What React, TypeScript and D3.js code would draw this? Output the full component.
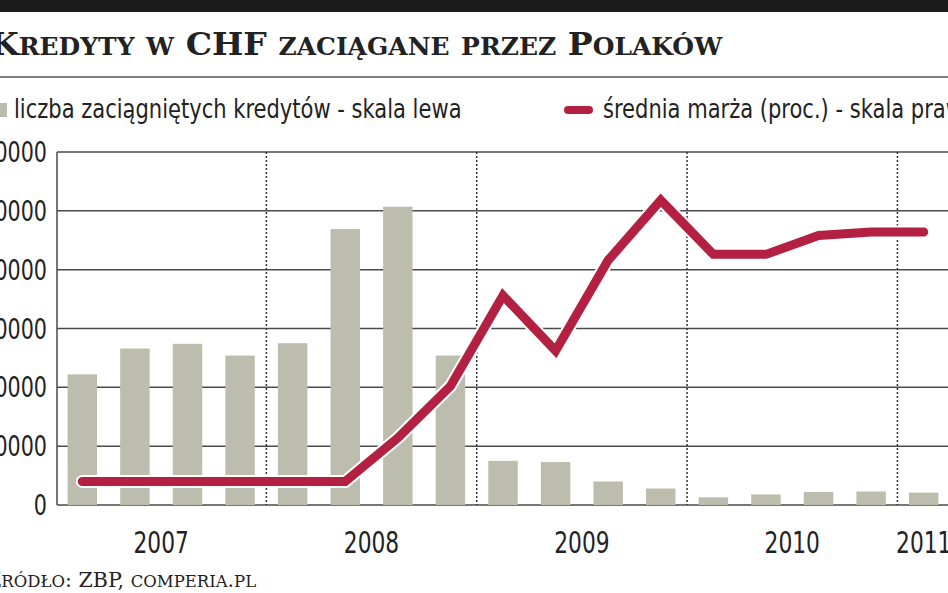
import React, { useEffect, useRef } from 'react';
import * as d3 from 'd3';

// quarterly data, Q1 2007 .. Q1 2011
const quarters = [
  'I 07', 'II 07', 'III 07', 'IV 07',
  'I 08', 'II 08', 'III 08', 'IV 08',
  'I 09', 'II 09', 'III 09', 'IV 09',
  'I 10', 'II 10', 'III 10', 'IV 10',
  'I 11',
];
const loans = [22200, 26600, 27400, 25400, 27500, 46900, 50700, 25400, 7500, 7300, 4000, 2800, 1300, 1800, 2200, 2300, 2100];
const margin = [0.7, 0.7, 0.7, 0.7, 0.7, 0.7, 1.07, 1.51, 2.28, 1.81, 2.58, 3.09, 2.63, 2.63, 2.79, 2.82, 2.82];
const years = ['2007', '2008', '2009', '2010', '2011'];
const yearOf = quarters.map(q => '20' + q.split(' ')[1]);
const leftTicks = [0, 10000, 20000, 30000, 40000, 50000, 60000];

const title = 'Kredyty w CHF zaciągane przez Polaków';
const legendBars = 'liczba zaciągniętych kredytów - skala lewa';
const legendLine = 'średnia marża (proc.) - skala prawa';
const source = 'Źródło: ZBP, comperia.pl';

const W = 948;
const H = 593;
const RED = '#b32041';
const BAR = '#bdbdae';
const GRID = '#4a4a4a';
const SANS = '"DejaVu Sans Condensed", "DejaVu Sans", sans-serif';
const SERIF = '"DejaVu Serif", "Liberation Serif", serif';

// split text into runs of capitals / lowercase for hand-made small caps
const smallCapsRuns = (s: string) => {
  const runs: { t: string, small: boolean }[] = [];
  for (const ch of s) {
    const small = ch !== ch.toUpperCase();
    const last = runs[runs.length - 1];
    if (last && last.small === small) last.t += ch;
    else runs.push({ t: ch, small });
  }
  return runs.map(r => ({ t: r.t.toUpperCase(), small: r.small }));
};

const App: React.FC = () => {
  const svgRef = useRef() as React.MutableRefObject<SVGSVGElement>;

  useEffect(() => {
    const svg = d3.select(svgRef.current);
    svg.html('');

    const plot = { left: 57, right: 950, top: 152, bottom: 505 };

    const x = d3.scaleBand<string>()
      .domain(quarters)
      .range([plot.left - 1, plot.right])
      .paddingInner(0.44)
      .paddingOuter(0.22);

    const y = d3.scaleLinear().domain([0, 60000]).range([plot.bottom, plot.top]);
    const yRight = d3.scaleLinear().domain([0.5, 3.5]).range([plot.bottom, plot.top]);

    const narrow = 0.82; // squeeze DejaVu toward the condensed newspaper face

    // top band
    svg.append('rect').attr('x', 0).attr('y', 0).attr('width', W).attr('height', 12).attr('fill', '#1b1b1b');

    // title in small caps
    const titleText = svg.append('text')
      .attr('transform', 'translate(-10,55) scale(1.02,1)')
      .attr('font-family', SERIF)
      .attr('font-weight', 'bold')
      .attr('fill', '#222');
    titleText.selectAll('tspan')
      .data(smallCapsRuns(title))
      .join('tspan')
      .attr('font-size', d => d.small ? 24.5 : 32.5)
      .text(d => d.t);

    svg.append('line')
      .attr('x1', 0).attr('x2', W).attr('y1', 77).attr('y2', 77)
      .attr('stroke', '#555').attr('stroke-width', 1.5);

    // legend
    svg.append('rect').attr('x', 0).attr('y', 103).attr('width', 7).attr('height', 14).attr('fill', BAR);
    svg.append('text')
      .attr('transform', 'translate(14,118) scale(0.9,1)')
      .attr('font-family', SANS).attr('font-size', 26).attr('fill', '#222')
      .text(legendBars);
    svg.append('line')
      .attr('x1', 568).attr('x2', 589).attr('y1', 110).attr('y2', 110)
      .attr('stroke', RED).attr('stroke-width', 8).attr('stroke-linecap', 'round');
    svg.append('text')
      .attr('transform', 'translate(603,118) scale(0.9,1)')
      .attr('font-family', SANS).attr('font-size', 26).attr('fill', '#222')
      .text(legendLine);

    // horizontal grid
    svg.append('g')
      .selectAll('line')
      .data(leftTicks)
      .join('line')
      .attr('x1', plot.left).attr('x2', W)
      .attr('y1', d => y(d)).attr('y2', d => y(d))
      .attr('stroke', GRID).attr('stroke-width', 1.5);

    // left axis labels
    svg.append('g')
      .selectAll('text')
      .data(leftTicks)
      .join('text')
      .attr('transform', d => `translate(47,${y(d) + 10}) scale(${narrow},1)`)
      .attr('text-anchor', 'end')
      .attr('font-family', SANS).attr('font-size', 28).attr('fill', '#222')
      .text(d => String(d));

    svg.append('line')
      .attr('x1', plot.left).attr('x2', plot.left)
      .attr('y1', plot.top).attr('y2', plot.bottom)
      .attr('stroke', GRID).attr('stroke-width', 1.5);

    // year separators
    const gap = x.step() - x.bandwidth();
    const sepX = years.slice(1).map(yr => {
      const first = quarters[yearOf.indexOf(yr)];
      return (x(first) as number) - gap / 2;
    });
    svg.append('g')
      .selectAll('line')
      .data(sepX)
      .join('line')
      .attr('x1', d => d).attr('x2', d => d)
      .attr('y1', plot.top).attr('y2', plot.bottom)
      .attr('stroke', '#333').attr('stroke-width', 1.5)
      .attr('stroke-dasharray', '2,2');

    // bars
    svg.append('g')
      .selectAll('rect')
      .data(loans)
      .join('rect')
      .attr('x', (_, i) => x(quarters[i]) as number)
      .attr('width', x.bandwidth())
      .attr('y', d => y(d))
      .attr('height', d => plot.bottom - y(d))
      .attr('fill', BAR);

    // margin line with white halo
    const line = d3.line<number>()
      .x((_, i) => (x(quarters[i]) as number) + x.bandwidth() / 2)
      .y(d => yRight(d));

    svg.append('path')
      .datum(margin)
      .attr('fill', 'none')
      .attr('stroke', '#fff')
      .attr('stroke-width', 13)
      .attr('stroke-linejoin', 'miter')
      .attr('stroke-linecap', 'round')
      .attr('d', line);
    svg.append('path')
      .datum(margin)
      .attr('fill', 'none')
      .attr('stroke', RED)
      .attr('stroke-width', 9)
      .attr('stroke-linejoin', 'miter')
      .attr('stroke-linecap', 'round')
      .attr('d', line);

    // year labels
    svg.append('g')
      .selectAll('text')
      .data(years)
      .join('text')
      .attr('transform', yr => {
        const xs = quarters.filter((_, i) => yearOf[i] === yr).map(q => (x(q) as number) + x.bandwidth() / 2);
        return `translate(${d3.mean(xs)},553) scale(0.78,1)`;
      })
      .attr('text-anchor', 'middle')
      .attr('font-family', SANS).attr('font-size', 31).attr('fill', '#222')
      .text(yr => yr);

    // source in small caps
    const src = svg.append('text')
      .attr('transform', 'translate(-13,587) scale(1.03,1)')
      .attr('font-family', SERIF)
      .attr('fill', '#222');
    src.selectAll('tspan')
      .data(smallCapsRuns(source))
      .join('tspan')
      .attr('font-size', d => d.small ? 16 : 20)
      .text(d => d.t);
  }, []);

  return (
    <svg
      ref={svgRef}
      width={W}
      height={H}
      style={{ position: 'absolute', left: 0, top: 0, background: '#fff' }}
    />
  );
};

export default App;
